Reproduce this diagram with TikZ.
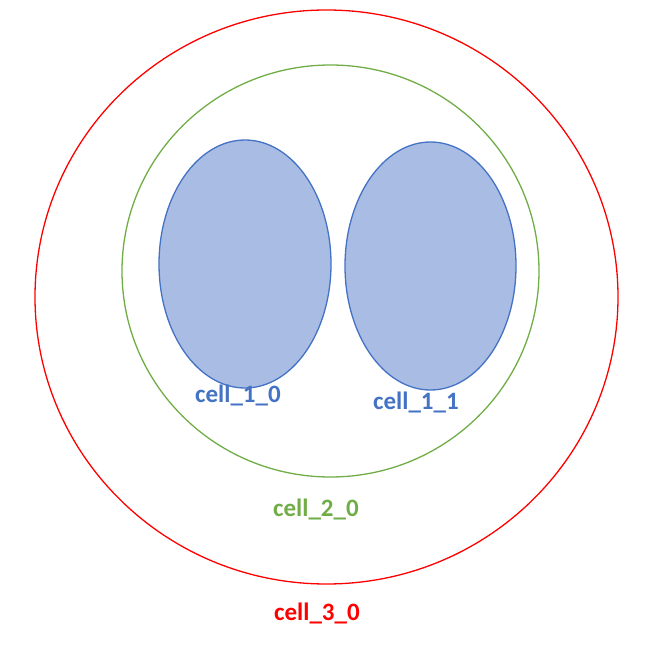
\documentclass[tikz,border=0pt]{standalone}
\usepackage{fontspec}
\setmainfont{Carlito}
\usetikzlibrary{positioning}
\definecolor{cellblue}{HTML}{4472C4}
\definecolor{cellfill}{HTML}{A9BCE3}
\definecolor{cellgreen}{HTML}{70AD47}
\definecolor{cellred}{HTML}{FF0000}

\begin{document}
\begin{tikzpicture}[x=1pt, y=-1pt,
        inner/.style={draw=cellblue, fill=cellfill, line width=1.3pt},
        label/.style={font=\bfseries\fontsize{25}{30}\selectfont, inner sep=0pt}
    ]
    \useasboundingbox (0,0) rectangle (662,652);
    % outer cells
    \draw[cellred, line width=1.3pt] (326.5,297) ellipse [x radius=291.5, y radius=287];
    \draw[cellgreen, line width=1.3pt] (330.5,271) ellipse [x radius=208.5, y radius=206];
    % inner cells
    \draw[inner] (245,264) ellipse [x radius=86, y radius=124];
    \draw[inner] (430.5,266) ellipse [x radius=85.5, y radius=124];
    % labels
    \node[label, text=cellblue] (c10) at (238,395) {cell\_1\_0};
    \node[label, text=cellblue] (c11) at (416,402) {cell\_1\_1};
    \node[label, text=cellgreen] (c20) at (316,509) {cell\_2\_0};
    \node[label, text=cellred] (c30) at (317,613) {cell\_3\_0};
\end{tikzpicture}
\end{document}
